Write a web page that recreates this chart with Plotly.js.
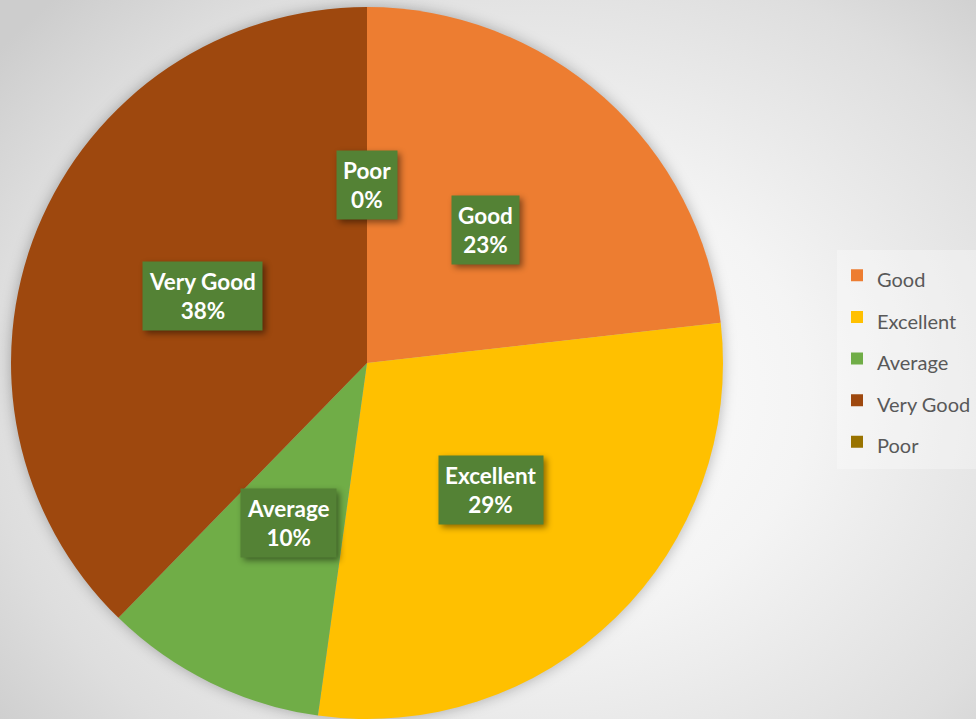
<!DOCTYPE html>
<html><head><meta charset="utf-8">
<script src="https://cdn.plot.ly/plotly-3.0.1.min.js"></script>
<style>
html,body{margin:0;padding:0;}
body{width:976px;height:719px;overflow:hidden;background: radial-gradient(ellipse 70% 78% at 55% 55%, #ffffff 0%, #f4f4f4 40%, #dedede 80%, #cdcdcd 100%);}
#chart{width:976px;height:719px;}
.pielayer .trace{filter:drop-shadow(0 0 7px rgba(0,0,0,0.28));}
.annotation rect.bg{filter:drop-shadow(3px 3px 3px rgba(0,0,0,0.45));}
</style></head><body><div id="chart"></div>
<script>
const categories = ['Good', 'Excellent', 'Average', 'Very Good', 'Poor'];
const values = [23.2, 29.0, 10.1, 37.7, 0];
const colors = ['#ED7D31', '#FFC000', '#70AD47', '#9E480E', '#997300'];

const W = 976, H = 719;
const domX = [11 / W, 723 / W];
const domY = [0, 712 / H];
const cx = (domX[0] + domX[1]) / 2, cy = (domY[0] + domY[1]) / 2;
const Rpx = 356;

const total = values.reduce((a, b) => a + b, 0);
let cum = 0;
const annotations = categories.map((c, i) => {
  const mid = (cum + values[i] / 2) / total;
  cum += values[i];
  const th = mid * 2 * Math.PI;
  const pct = Math.round(values[i] / total * 100) + '%';
  return {
    xref: 'paper', yref: 'paper',
    x: cx + 0.5 * Rpx * Math.sin(th) / W,
    y: cy + 0.5 * Rpx * Math.cos(th) / H,
    xanchor: 'center', yanchor: 'middle',
    text: '<b>' + c + '<br>' + pct + '</b>',
    showarrow: false,
    bgcolor: '#548235',
    borderpad: 6,
    font: {family: 'Lato, sans-serif', size: 22.5, color: '#ffffff'}
  };
});

const trace = {
  type: 'pie',
  labels: categories.map(c => '<span style="font-size:20px">' + c + '</span>'),
  values: values,
  sort: false,
  direction: 'clockwise',
  rotation: 0,
  textinfo: 'none',
  hoverinfo: 'label+percent',
  marker: {colors: colors, line: {width: 0}},
  domain: {x: domX, y: domY}
};

const layout = {
  width: W, height: H,
  margin: {l: 0, r: 0, t: 0, b: 0, autoexpand: false},
  paper_bgcolor: 'rgba(0,0,0,0)',
  plot_bgcolor: 'rgba(0,0,0,0)',
  showlegend: true,
  legend: {
    x: 837 / W, xanchor: 'left', y: 1 - 359 / H, yanchor: 'middle',
    bgcolor: 'rgba(255,255,255,0.3)',
    font: {family: 'Lato, sans-serif', size: 29.7, color: '#595959'}
  },
  annotations: annotations
};

Plotly.newPlot('chart', [trace], layout, {displayModeBar: false, staticPlot: true});
</script></body></html>
